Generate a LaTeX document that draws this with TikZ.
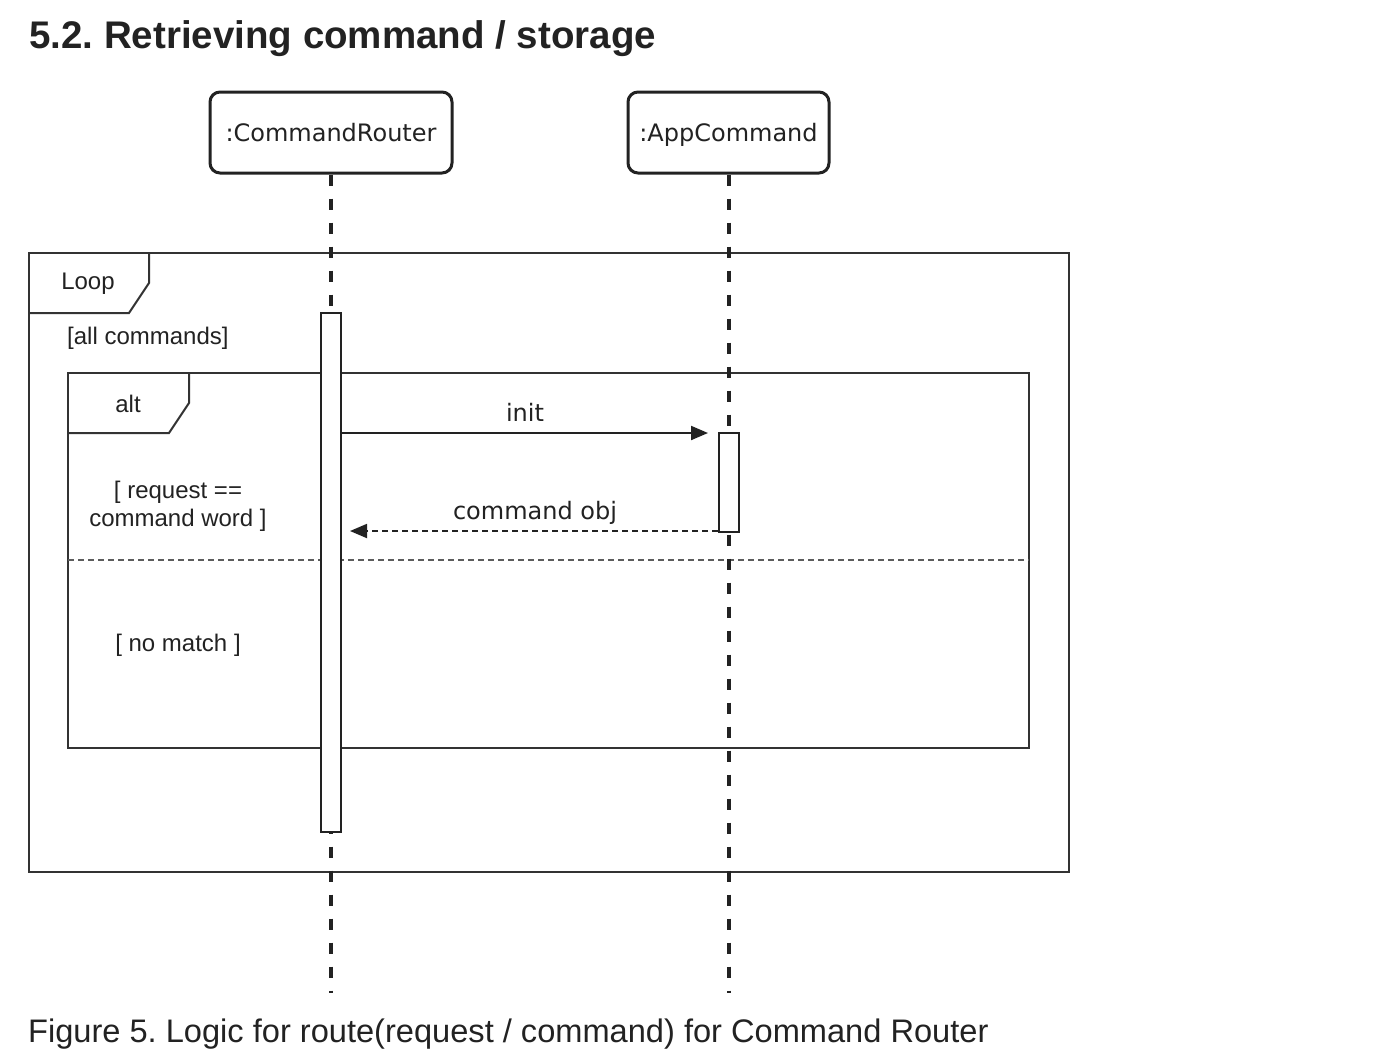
\documentclass[tikz,border=0pt]{standalone}
\usepackage{fontspec}
\setmainfont{Liberation Sans}
\newfontfamily\dvs{DejaVu Sans}
\newfontfamily\lib{Liberation Sans}
\usetikzlibrary{arrows.meta}
\frenchspacing
\definecolor{ink}{HTML}{222222}
\definecolor{frameline}{HTML}{333333}
\tikzset{
  headbox/.style={draw=ink, line width=3pt, rounded corners=10pt, fill=white,
    inner sep=0pt, text height=17pt, text depth=0pt, font=\dvs\fontsize{24}{28}\selectfont, text=ink},
  lifeline/.style={draw=ink, line width=3.2pt, dash pattern=on 11pt off 13pt},
  actbox/.style={draw=ink, line width=2pt, fill=white, inner sep=0pt, minimum width=20pt},
  frm/.style={draw=frameline, line width=2pt},
  divider/.style={draw=frameline!80, line width=1.8pt, dash pattern=on 6pt off 4pt},
  msg/.style={draw=ink, line width=2pt, -{Triangle[length=17pt,width=14pt]}},
  retmsg/.style={draw=ink, line width=1.8pt, dash pattern=on 6pt off 4pt, -{Triangle[length=17pt,width=14pt]}},
  msglbl/.style={font=\dvs\fontsize{24}{28}\selectfont, text=ink, inner sep=0pt},
  grdlbl/.style={font=\lib\fontsize{24}{28}\selectfont, text=ink, inner sep=0pt, align=center},
}
\begin{document}
\begin{tikzpicture}[x=1pt,y=-1pt]
\useasboundingbox[fill=white] (0,0) rectangle (1378,1060);

% title
\node[anchor=base west, inner sep=0pt, text=ink, font=\lib\bfseries\fontsize{38.5}{44}\selectfont] (title) at (29,48) {5.2. Retrieving command / storage};

% loop frame
\draw[frm] (29,253) rectangle (1069,872);
\draw[frm] (149,253) -- (149,283) -- (129,313) -- (29,313);
\node[grdlbl] (looplbl) at (88,284) {Loop};
\node[grdlbl, anchor=west] (guard1) at (67,338) {[all commands]};

% alt frame
\draw[frm] (68,373) rectangle (1029,748);
\draw[frm] (189,373) -- (189,403) -- (169,433) -- (68,433);
\node[grdlbl] (altlbl) at (128,404) {alt};
\node[grdlbl] (guard2) at (178,506) {[ request ==\\command word ]};
\draw[divider] (68,560) -- (1029,560);
\node[grdlbl] (guard3) at (178,645) {[ no match ]};

% lifeline heads
\node[headbox, minimum width=242pt, minimum height=81pt] (cr) at (331,132.5) {:CommandRouter};
\node[headbox, minimum width=201pt, minimum height=81pt] (ac) at (728.5,132.5) {:AppCommand};

\coordinate (crend) at (331,993);
\coordinate (acend) at (729,993);
\draw[lifeline] (cr.south) -- (crend);
\draw[lifeline] (ac.south -| acend) -- (acend);

% activations
\node[actbox, minimum height=519pt] (act1) at (331,572.5) {};
\node[actbox, minimum height=99pt] (act2) at (729,482.5) {};

% messages
\coordinate (initend) at (708,433);
\draw[msg] (act1.east |- initend) -- (initend);
\node[msglbl, anchor=base] (initlbl) at (525,421) {init};

\coordinate (retend) at (350,531);
\draw[retmsg] (act2.west |- retend) -- (retend);
\node[msglbl, anchor=base] (retlbl) at (535,519) {command obj};

% caption
\node[anchor=base west, inner sep=0pt, text=ink, font=\lib\fontsize{32.6}{38}\selectfont] (caption) at (28,1042) {Figure 5. Logic for route(request / command) for Command Router};
\end{tikzpicture}
\end{document}
